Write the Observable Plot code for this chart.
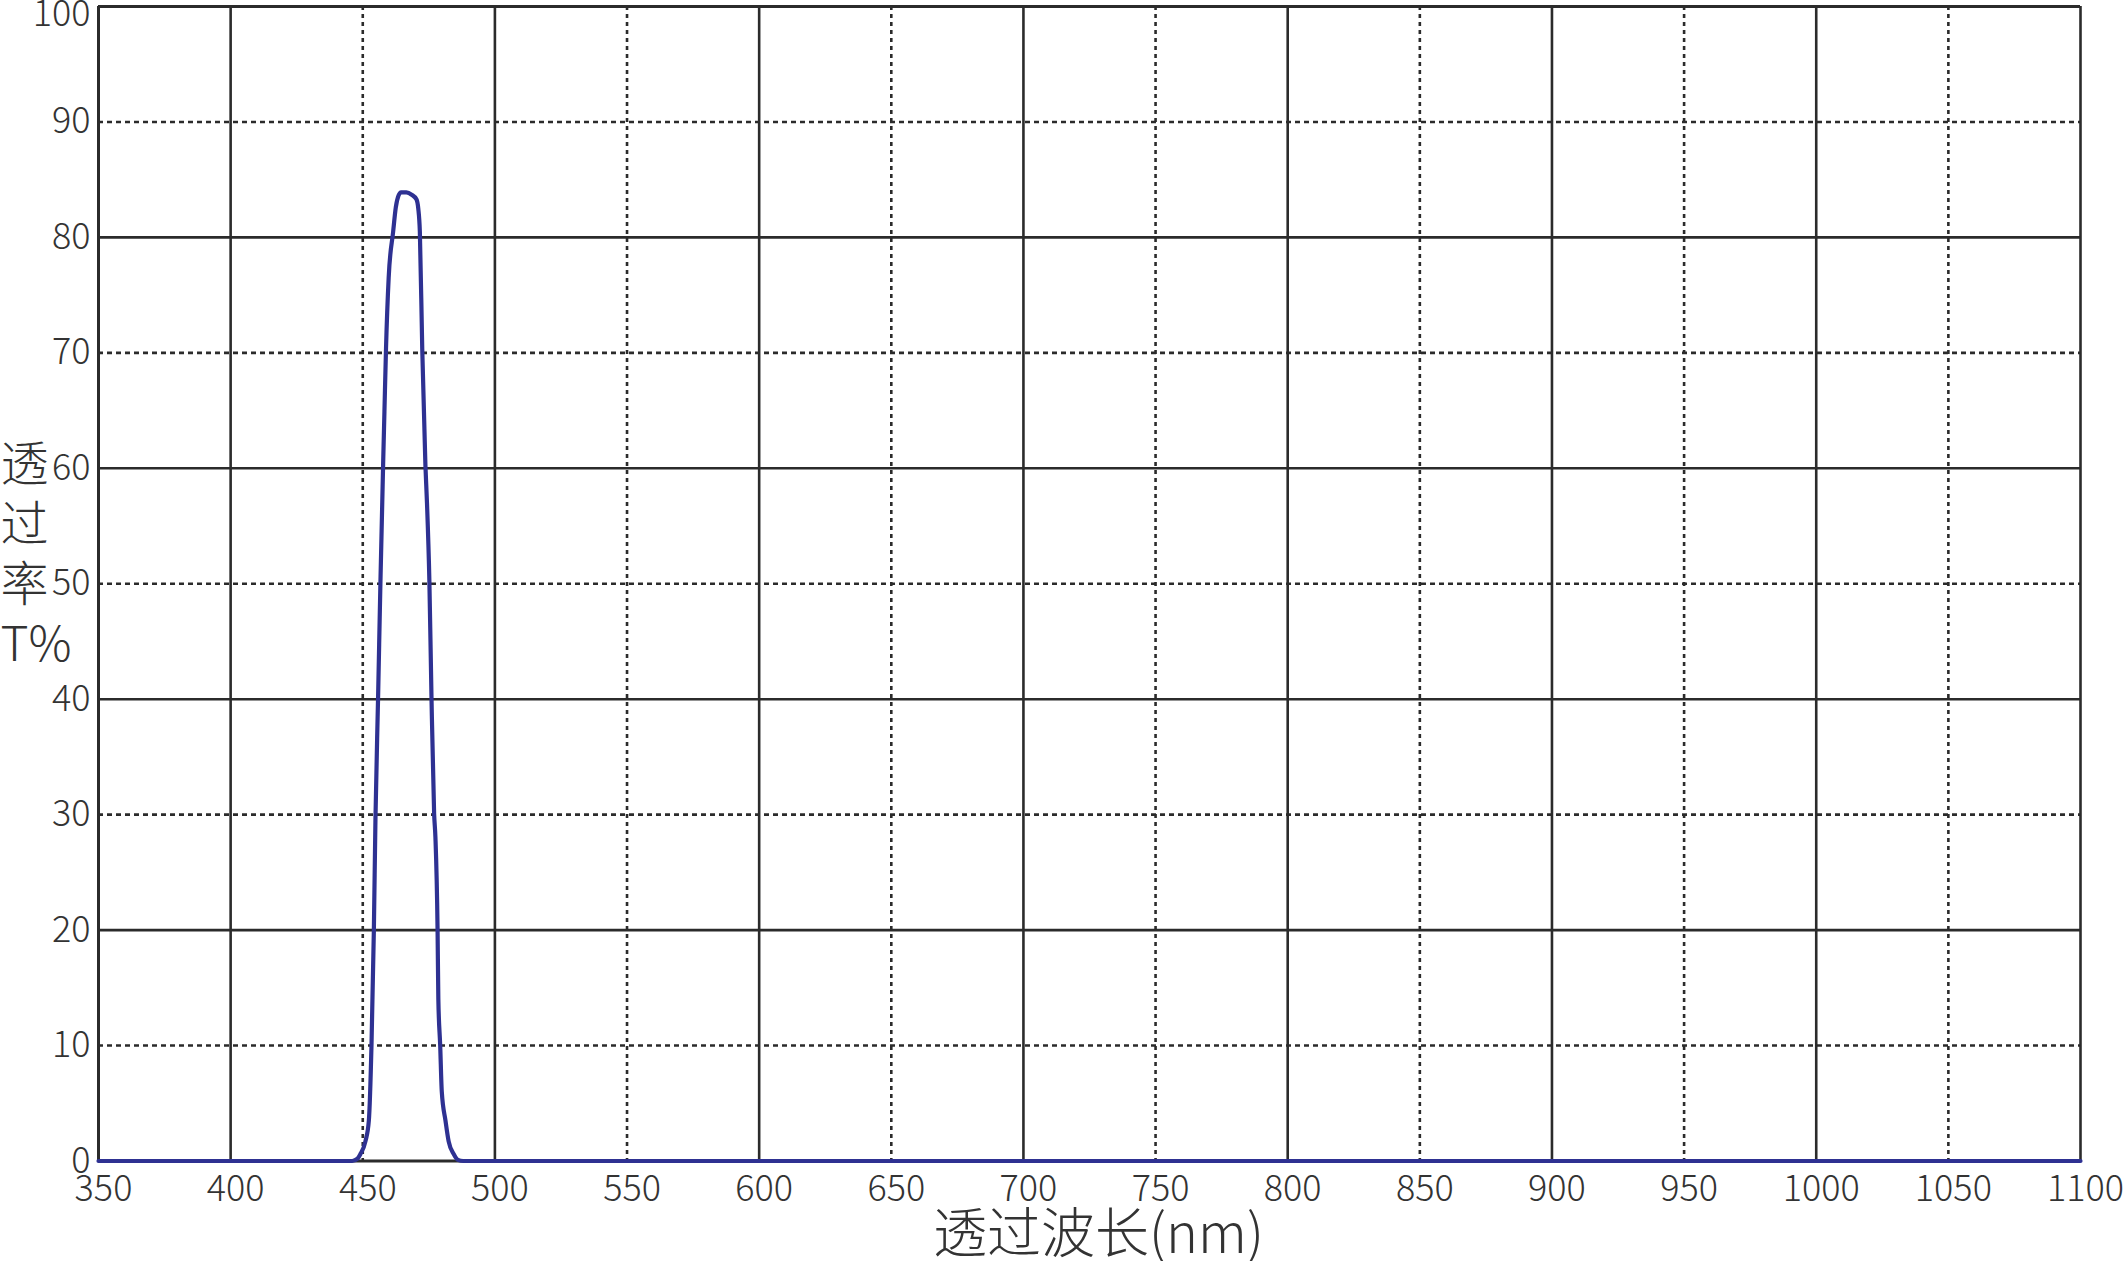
<!DOCTYPE html>
<html>
<head>
<meta charset="utf-8">
<script src="https://cdn.jsdelivr.net/npm/d3@7"></script>
<script src="https://cdn.jsdelivr.net/npm/@observablehq/plot@0.6"></script>
<style>
  html, body { margin: 0; padding: 0; background: #fff; }
  #chart svg { display: block; }
</style>
</head>
<body>
<div id="chart"></div>
<script>
// Wavelength (nm) and transmittance (%)
const wavelength = [350, 400, 440, 446, 448, 449.1, 451, 452.3, 453.3, 454.2, 454.8, 455.8, 456.7, 457.7, 458.2, 458.8, 459.8, 461.5, 462.5, 463.5, 464.5, 466.5, 468.5, 470.3, 471.0, 471.6, 472.5, 473.7, 474.3, 475.2, 476.0, 477.0, 477.5, 478.3, 478.6, 479.3, 479.9, 481.3, 482.5, 484.4, 486.0, 488, 600, 800, 1100];
const transmittance = [0, 0, 0, 0, 0.2, 0.6, 1.7, 3.5, 10, 20, 29.6, 40.2, 50.3, 60.3, 64.9, 70.4, 76.5, 80.5, 82.6, 83.6, 83.9, 83.9, 83.7, 83.3, 82.5, 80.5, 70.4, 60.3, 57, 50.3, 40.2, 30.1, 28, 20.1, 14, 10, 6, 3.5, 1.7, 0.6, 0.1, 0, 0, 0, 0];

const xTicks = [350, 400, 450, 500, 550, 600, 650, 700, 750, 800, 850, 900, 950, 1000, 1050, 1100];
const xMajor = [400, 500, 600, 700, 800, 900, 1000, 1100];
const xMinor = [450, 550, 650, 750, 850, 950, 1050];
const yTicks = [0, 10, 20, 30, 40, 50, 60, 70, 80, 90];
const yTop = [100];
const yMajor = [20, 40, 60, 80];
const yMinor = [10, 30, 50, 70, 90];
const xTitle = ["透过波长(nm)"];
const yTitle = ["透\n过\n率\nT%"];

const data = wavelength.map((w, i) => ({w, t: transmittance[i]}));

const ink = "#2b2b2b";
const textInk = "#333333";
const blue = "#2e3192";
const font = "'Noto Sans CJK SC', 'Noto Sans', sans-serif";

const chart = Plot.plot({
  width: 2127,
  height: 1261,
  marginLeft: 98,
  marginRight: 47,
  marginTop: 6,
  marginBottom: 100.5,
  x: {domain: [350, 1100], label: null},
  y: {domain: [0, 100], label: null},
  style: {fontFamily: font, background: "#fff", color: textInk, fontWeight: 300},
  marks: [
    Plot.ruleX(xMinor, {stroke: ink, strokeWidth: 2.6, strokeDasharray: "4,4"}),
    Plot.ruleY(yMinor, {stroke: ink, strokeWidth: 2.6, strokeDasharray: "5,4"}),
    Plot.ruleX(xMajor, {stroke: ink, strokeWidth: 2.6}),
    Plot.ruleY(yMajor, {stroke: ink, strokeWidth: 2.6}),
    Plot.ruleX([350], {stroke: ink, strokeWidth: 3}),
    Plot.ruleY([100], {stroke: ink, strokeWidth: 3}),
    Plot.ruleY([0], {stroke: ink, strokeWidth: 3}),
    Plot.line(data, {x: "w", y: "t", stroke: blue, strokeWidth: 4.2, curve: "monotone-x", strokeLinejoin: "round"}),
    Plot.axisX(xTicks, {label: null, tickSize: 0, tickPadding: 14, dx: 5, fontSize: 36, fontWeight: 300, fill: textInk, tickFormat: d => String(d)}),
    Plot.axisY(yTicks, {label: null, tickSize: 0, tickPadding: 8, fontSize: 36, fontWeight: 300, fill: textInk, tickFormat: d => String(d)}),
    Plot.axisY(yTop, {label: null, tickSize: 0, tickPadding: 8, dy: 8, fontSize: 36, fontWeight: 300, fill: textInk, tickFormat: d => String(d)}),
    Plot.text(xTitle, {text: d => d, frameAnchor: "bottom", lineAnchor: "middle", dy: 75, dx: 9, fontSize: 54, fontWeight: 300, fill: textInk}),
    Plot.text(yTitle, {text: d => d, frameAnchor: "left", textAnchor: "start", lineAnchor: "middle", dx: -98, dy: -32, fontSize: 48, fontWeight: 300, lineHeight: 1.25, fill: textInk})
  ]
});

document.getElementById("chart").appendChild(chart);
</script>
</body>
</html>
